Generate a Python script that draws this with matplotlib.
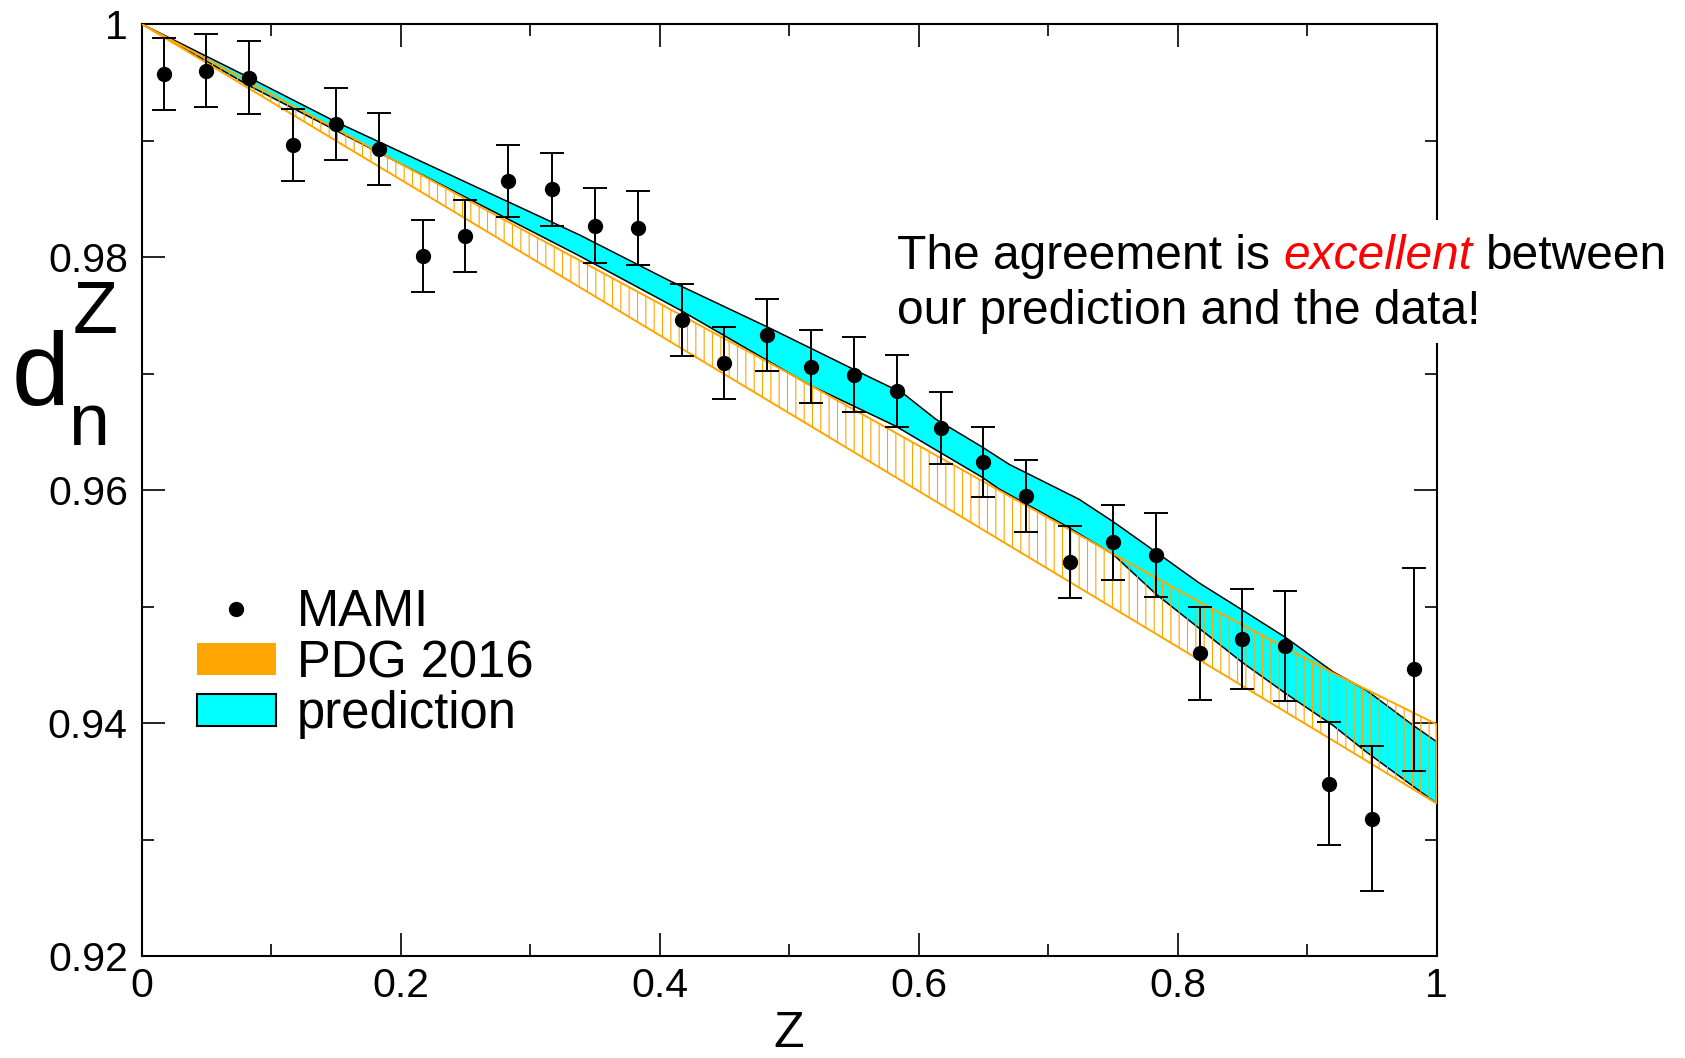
import matplotlib
matplotlib.use('Agg')
import numpy as np
import matplotlib.pyplot as plt
from matplotlib.lines import Line2D
from matplotlib.patches import Patch, Rectangle
from matplotlib.ticker import MultipleLocator

plt.rcParams['font.family'] = ['Liberation Sans', 'DejaVu Sans']
plt.rcParams['hatch.color'] = 'orange'
plt.rcParams['hatch.linewidth'] = 0.8

# MAMI data points
mami_z = [0.017, 0.050, 0.083, 0.117, 0.150, 0.183, 0.217, 0.250, 0.283, 0.317,
          0.350, 0.383, 0.417, 0.450, 0.483, 0.517, 0.550, 0.583, 0.617, 0.650,
          0.683, 0.717, 0.750, 0.783, 0.817, 0.850, 0.883, 0.917, 0.950, 0.983]
mami_d = [0.9957, 0.9960, 0.9954, 0.9896, 0.9914, 0.9893, 0.9801, 0.9818, 0.9865, 0.9858,
          0.9827, 0.9825, 0.9746, 0.9709, 0.9733, 0.9706, 0.9699, 0.9685, 0.9653, 0.9624,
          0.9595, 0.9538, 0.9555, 0.9544, 0.9460, 0.9472, 0.9466, 0.9348, 0.9318, 0.9446]
mami_err = [0.0031, 0.0031, 0.0031, 0.0031, 0.0031, 0.0031, 0.0031, 0.0031, 0.0031, 0.0031,
            0.0032, 0.0032, 0.0031, 0.0031, 0.0031, 0.0031, 0.0032, 0.0031, 0.0031, 0.0030,
            0.0031, 0.0031, 0.0032, 0.0036, 0.0040, 0.0043, 0.0047, 0.0053, 0.0062, 0.0087]

# PDG 2016 band
pdg_z = [0.0, 0.25, 0.50, 0.66, 0.82, 0.92, 1.0]
pdg_hi = [1.0, 0.9850, 0.9700, 0.9601, 0.9502, 0.9443, 0.9399]
pdg_lo = [1.0, 0.9833, 0.9666, 0.9559, 0.9452, 0.9385, 0.9331]

# prediction band (upper and lower edges)
pred_z_top = [0.0, 0.083, 0.150, 0.338, 0.407, 0.485, 0.549, 0.588, 0.613, 0.649,
              0.670, 0.724, 0.750, 0.783, 0.817, 0.850, 0.884, 0.920, 0.946, 0.982, 1.0]
pred_top = [1.0, 0.9954, 0.9916, 0.9819, 0.9780, 0.9739, 0.9704, 0.9683, 0.9661, 0.9637,
            0.9622, 0.9592, 0.9573, 0.9547, 0.9520, 0.9497, 0.9473, 0.9444, 0.9428, 0.9398, 0.9384]
pred_z_bot = [0.0, 0.083, 0.338, 0.415, 0.516, 0.582, 0.649, 0.662, 0.714, 0.750,
              0.783, 0.817, 0.850, 0.884, 0.920, 0.946, 1.0]
pred_bot = [1.0, 0.9947, 0.9801, 0.9755, 0.9690, 0.9655, 0.9611, 0.9601, 0.9569, 0.9545,
            0.9511, 0.9481, 0.9452, 0.9425, 0.9398, 0.9375, 0.9331]

xticks = [0, 0.2, 0.4, 0.6, 0.8, 1.0]
xtick_labels = ['0', '0.2', '0.4', '0.6', '0.8', '1']
yticks = [0.92, 0.94, 0.96, 0.98, 1.0]
ytick_labels = ['0.92', '0.94', '0.96', '0.98', '1']

W, H = 1685, 1058
fig = plt.figure(figsize=(W / 100, H / 100), dpi=100)
ax = fig.add_axes([141.7 / W, 1 - 956 / H, 1294.8 / W, 932 / H])

# prediction band (cyan, black outline)
ax.fill(np.concatenate([pred_z_top, pred_z_bot[::-1]]),
        np.concatenate([pred_top, pred_bot[::-1]]),
        facecolor='cyan', edgecolor='black', linewidth=1.1, zorder=2)

# PDG band (orange hatching)
ax.fill_between(pdg_z, pdg_lo, pdg_hi, facecolor='none', edgecolor='orange',
                hatch='||', linewidth=1.4, zorder=3)

ax.errorbar(mami_z, mami_d, yerr=mami_err, fmt='o', color='black', markersize=10,
            elinewidth=1.4, capsize=8.6, capthick=1.4, zorder=4)

ax.set_xlim(0, 1)
ax.set_ylim(0.92, 1.0)
ax.set_xticks(xticks)
ax.set_xticklabels(xtick_labels)
ax.set_yticks(yticks)
ax.set_yticklabels(ytick_labels)
ax.xaxis.set_minor_locator(MultipleLocator(0.1))
ax.yaxis.set_minor_locator(MultipleLocator(0.01))
ax.tick_params(which='both', direction='in', top=True, right=True, width=1.2,
               labelsize=29.5)
ax.tick_params(which='major', length=16.5)
ax.tick_params(which='minor', length=8.6)
ax.tick_params(axis='x', pad=8)
ax.tick_params(axis='y', pad=10)
for sp in ax.spines.values():
    sp.set_linewidth(1.5)

# axis labels
fig.text(789 / W, 1 - 1047 / H, 'Z', ha='center', va='baseline', fontsize=36)
fig.text(11.5 / W, 1 - 405 / H, 'd', ha='left', va='baseline', fontsize=75)
fig.text(72.5 / W, 1 - 333 / H, 'Z', ha='left', va='baseline', fontsize=53)
fig.text(68 / W, 1 - 445 / H, 'n', ha='left', va='baseline', fontsize=53)

# legend
handles = [Line2D([], [], marker='o', color='black', linestyle='none', markersize=10),
           Patch(facecolor='orange', edgecolor='none'),
           Patch(facecolor='cyan', edgecolor='black', linewidth=1.5)]
labels = ['MAMI', 'PDG 2016', 'prediction']
ax.legend(handles, labels, loc='upper left', bbox_to_anchor=(196.7 / W, 1 - 588 / H),
          bbox_transform=fig.transFigure, frameon=False, fontsize=36.5, borderpad=0,
          borderaxespad=0, handlelength=1.57, handleheight=0.59, handletextpad=0.4,
          labelspacing=0.04)

# white box behind the comment (hides the right spine there)
fig.add_artist(Rectangle((890 / W, 1 - 343 / H), 780 / W, 123 / H,
                         transform=fig.transFigure, facecolor='white',
                         edgecolor='none', zorder=5))

fs = 34.5
space = 0.278 * fs * 100 / 72
renderer = fig.canvas.get_renderer()
t1 = fig.text(897 / W, 1 - 268.7 / H, 'The agreement is', fontsize=fs,
              va='baseline', zorder=6)
bb = t1.get_window_extent(renderer)
t2 = fig.text((bb.x1 + space) / W, 1 - 268.7 / H, 'excellent', fontsize=fs,
              color='red', style='italic', va='baseline', zorder=6)
bb = t2.get_window_extent(renderer)
fig.text((bb.x1 + space) / W, 1 - 268.7 / H, 'between', fontsize=fs,
         va='baseline', zorder=6)
fig.text(897 / W, 1 - 324.5 / H, 'our prediction and the data!', fontsize=fs,
         va='baseline', zorder=6)

fig.savefig('out.png', dpi=100)
